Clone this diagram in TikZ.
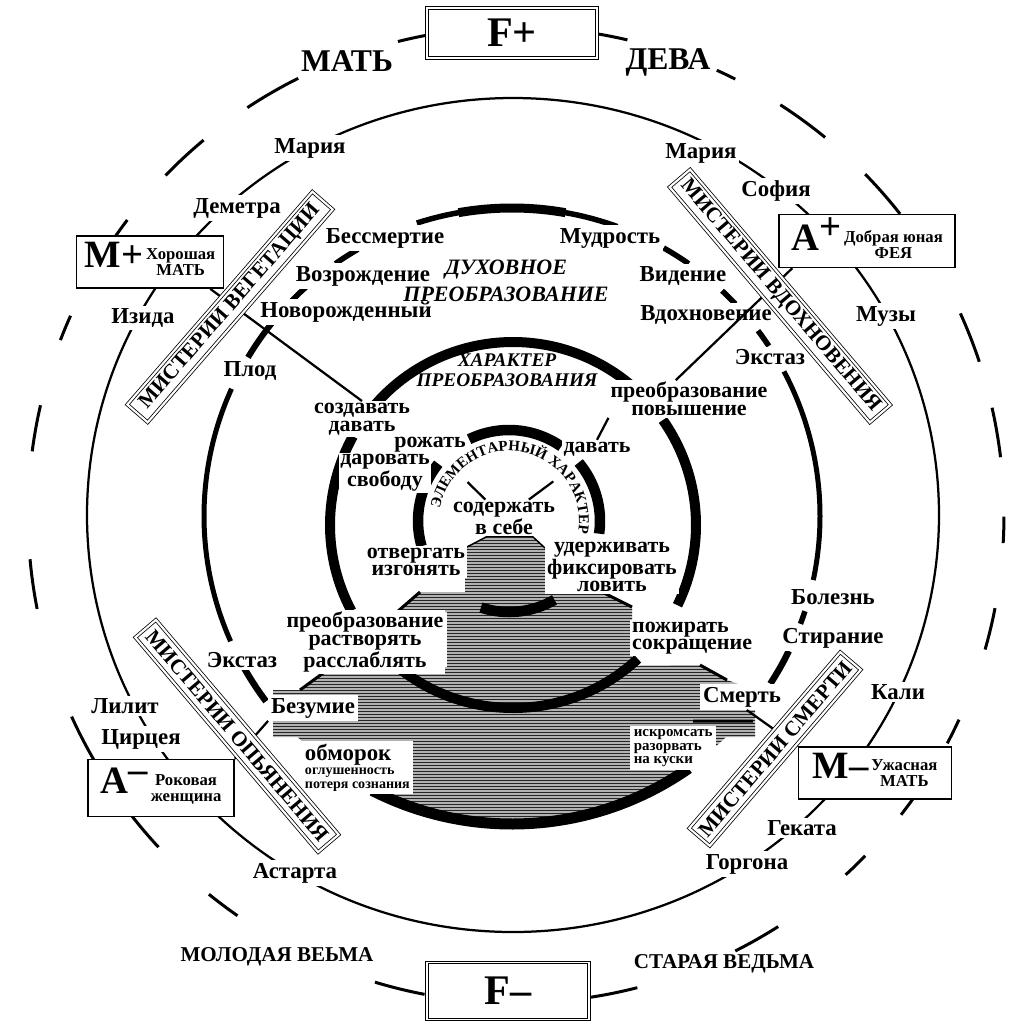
\documentclass[tikz,border=0pt]{standalone}
\usepackage{fontspec}
\setmainfont{Liberation Serif}
\usetikzlibrary{decorations.text}

% big letter with a two-line note beside it
\newcommand{\rolename}[3]{{\fontsize{22}{22}\selectfont\bfseries #1}\,%
  \begin{tabular}{@{}c@{}}\fontsize{9.5}{10}\selectfont\bfseries #2\\[-3pt]
    \fontsize{9.5}{10}\selectfont\bfseries #3\end{tabular}}

\tikzset{
  lbl/.style={fill=white, inner sep=1.5pt, font=\fontsize{13}{14}\selectfont\bfseries},
  act/.style={fill=white, inner sep=1pt, align=center, font=\fontsize{12.5}{10}\selectfont\bfseries},
  ttl/.style={inner sep=1pt, align=center, font=\fontsize{12.5}{15}\selectfont\bfseries\itshape},
  smallttl/.style={inner sep=1pt, align=center, font=\fontsize{11}{11.5}\selectfont\bfseries\itshape},
  caps/.style={inner sep=1pt, font=\fontsize{18}{18}\selectfont\bfseries},
  witch/.style={inner sep=1pt, font=\fontsize{12}{12}\selectfont\bfseries},
  rolebox/.style={draw, fill=white, line width=0.9pt, minimum width=#1, minimum height=10.4mm, inner sep=1.5pt},
  fbox/.style={draw, fill=white, line width=0.7pt, double distance=0.7pt, minimum width=34mm, minimum height=10mm, font=\fontsize{24}{24}\selectfont\bfseries},
  banner/.style={draw, fill=white, line width=0.45pt, double distance=1.2pt, minimum width=#1, minimum height=5.4mm, inner sep=0pt, font=\fontsize{12}{13}\selectfont\bfseries},
  link/.style={line width=0.45mm},
}

\begin{document}
\begin{tikzpicture}[x=0.2mm, y=-0.2mm]
  \useasboundingbox (0,0) rectangle (1017,1024);

  % centres of the rings
  \coordinate (c1) at (516,515);
  \coordinate (c2) at (513,515);
  \coordinate (c3) at (512,516);
  \coordinate (c4) at (513,525);
  \coordinate (c5) at (509,521);

  % the vessel
  \begin{scope}
    \clip (465,548) -- (488,536) -- (532,536) -- (545,548) -- (545,596) -- (465,596) -- cycle
          (397,612) -- (420,592) -- (602,592) -- (632,607) -- (632,670) -- (447,670) -- (447,612) -- cycle
          (273,690) -- (300,690) -- (330,668) -- (700,665) -- (727,680) -- (755,690) -- (755,737) -- (273,737) -- cycle
          (728,735) arc[start angle=45.4, end angle=134.6, radius=308] -- cycle;
    \fill[gray!60] (260,530) rectangle (770,830);
    \foreach \y in {531,534,...,831}
      \draw[black!85, line width=0.17mm] (260,\y) -- (770,\y);
  \end{scope}
  \draw[line width=0.6mm] (397,612) -- (420,592) (602,592) -- (632,607)
    (300,690) -- (330,668) (700,665) -- (727,680) (693,721) -- (753,721);
  \draw[line width=0.3mm] (465,548) -- (488,536) -- (532,536) -- (545,548);

  % outer ring, broken
  \foreach \a/\b in {-172.5/-167, -159/-155.9, -146/-142.8, -135.9/-129.8, -123.4/-116.5, -104/-100,
      -80.4/-76.8, -65.7/-63.3, -57.2/-50.7, -44.3/-38.1, -24.4/-18.3, -12.7/-6.8, 0.2/3.3, 11/16,
      24.8/27.9, 35.5/37.9, 44.3/47.5, 57.5/63.3, 75.6/81.2, 100.8/106.8, 124.8/129, 137.1/142.9,
      149.7/155.6, 168.9/174.8}
    \draw[line width=0.6mm] (c1) ++(\a:488) arc[start angle=\a, end angle=\b, radius=488];

  % second ring
  \draw[line width=0.45mm] (c2) ellipse[x radius=426, y radius=417];

  % spiritual transformation ring
  \foreach \a/\b/\w in {-108/-70/1.1, -100/-80/1.8, -125/-120/1.1, -136/-131.5/1.1, -149/-141/1.2,
      156/204.4/1, 143/150.6/1.3, -60.5/-55/1.1, -47/-43.5/1.1, -37/-33.5/1.1, -28/12/1,
      18/20.5/1.1, 26/33/1.3}
    \draw[line width=\w mm] (c3) ++(\a:308) arc[start angle=\a, end angle=\b, radius=308];
  \draw[line width=2.2mm] (c3) ++(55:308) arc[start angle=55, end angle=117, radius=308];

  % character of transformation ring
  \foreach \a/\b in {-144/-50, 152/209, -35/26, 47/130}
    \draw[line width=2mm] (c4) ++(\a:183) arc[start angle=\a, end angle=\b, radius=183];

  % elementary character ring
  \foreach \a/\b in {-116/-55, 164/219, -40/8, 60/108}
    \draw[line width=2.1mm] (c5) ++(\a:91) arc[start angle=\a, end angle=\b, radius=91];
  \path[decorate, decoration={text along path, text align=center,
      text={|\fontsize{8.5}{9}\selectfont\bfseries|ЭЛЕМЕНТАРНЫЙ ХАРАКТЕР}}]
    (c5) ++(-172:70) arc[start angle=-172, end angle=12, radius=70];

  % F boxes and outer words
  \node[fbox] (fplus) at (512,33) {F+};
  \node[fbox, minimum width=32.4mm, minimum height=11.4mm] (fminus) at (508,991) {F–};
  \node[caps] (mat) at (347,61) {МАТЬ};
  \node[caps] (deva) at (668,62) {ДЕВА};
  \node[witch] (young) at (277,957) {МОЛОДАЯ ВЕЬМА};
  \node[witch] (old) at (724,964) {СТАРАЯ ВЕДЬМА};

  % figures on the second ring
  \node[lbl] (mariaL) at (310,148) {Мария};
  \node[lbl] (mariaR) at (701,153) {Мария};
  \node[lbl] (sofia) at (776,191) {София};
  \node[lbl] (demetra) at (237,208) {Деметра};
  \node[lbl] (izida) at (143,318) {Изида};
  \node[lbl] (muzy) at (886,316) {Музы};
  \node[lbl] (lilit) at (125,706) {Лилит};
  \node[lbl] (circeya) at (141,739) {Цирцея};
  \node[lbl] (astarta) at (295,873) {Астарта};
  \node[lbl] (kali) at (898,692) {Кали};
  \node[lbl] (gekata) at (802,828) {Геката};
  \node[lbl] (gorgona) at (747,864) {Горгона};

  \node[rolebox=29.4mm] (mplus) at (150,262) {\rolename{M+}{Хорошая}{МАТЬ}};
  \node[rolebox=35.2mm] (aplus) at (867,241) {\rolename{A\raisebox{.3em}{+}}{Добрая юная}{ФЕЯ}};
  \node[rolebox=29.2mm, minimum height=11.4mm] (aminus) at (161,788) {\rolename{A\raisebox{.3em}{–}}{Роковая}{женщина}};
  \node[rolebox=30.6mm] (mminus) at (875,773) {\rolename{M–}{Ужасная}{МАТЬ}};

  % third ring
  \node[lbl] (bessm) at (385,238) {Бессмертие};
  \node[lbl] (mudr) at (610,238) {Мудрость};
  \node[lbl] (vozr) at (363,276) {Возрождение};
  \node[lbl] (viden) at (683,276) {Видение};
  \node[lbl] (novor) at (346,312) {Новорожденный};
  \node[lbl] (vdohn) at (706,315) {Вдохновение};
  \node[lbl] (plod) at (250,371) {Плод};
  \node[lbl] (ekstR) at (770,357) {Экстаз};
  \node[lbl] (ekstL) at (242,660) {Экстаз};
  \node[lbl] (bolezn) at (833,597) {Болезнь};
  \node[lbl] (stiran) at (833,638) {Стирание};
  \node[lbl] (bezum) at (313,708) {Безумие};
  \node[lbl] (smert) at (742,697) {Смерть};
  \node[ttl] (duh) at (506,281) {ДУХОВНОЕ\\ПРЕОБРАЗОВАНИЕ};
  \node[smallttl] (harakt) at (507,370) {ХАРАКТЕР\\ПРЕОБРАЗОВАНИЯ};

  % inner actions
  \node[act] (sozd) at (362,419) {создавать\\давать};
  \node[act] (povysh) at (689,399) {преобразование\\повышение};
  \node[act] (rozh) at (430,445) {рожать};
  \node[act] (davat) at (597,449) {давать};
  \node[act] (darov) at (385,473) {даровать\\свободу};
  \node[act] (soderzh) at (504,518) {содержать\\в себе};
  \node[act] (otverg) at (416,562) {отвергать\\изгонять};
  \node[act] (uderzh) at (612,567) {удерживать\\фиксировать\\ловить};
  \node[act] (rastv) at (365,642) {преобразование\\растворять\\расслаблять};
  \node[act, align=left, anchor=west] (pozhir) at (630,638) {пожирать\\сокращение};
  \node[act, align=left, anchor=north west, inner sep=1.5pt, font=\fontsize{8}{8}\selectfont\bfseries]
    (obmor) at (302,741) {{\fontsize{13}{13}\selectfont обморок}\\оглушенность\\потеря сознания};
  \node[act, align=left, anchor=north west, inner sep=2pt, font=\fontsize{8.5}{7.5}\selectfont\bfseries]
    (iskr) at (630,726) {искромсать\\разорвать\\на куски};

  % links
  \draw[link] (mplus.-24) -- (sozd.north);
  \draw[link] (aplus.200) -- (povysh.125);
  \draw[link] (davat.north) -- (povysh.south west);
  \draw[link, shorten >=7.8mm] (soderzh) -- (rozh);
  \draw[link, shorten >=7.8mm] (soderzh) -- (davat);
  \draw[link] (aminus.north east) -- (bezum.south west);
  \draw[link] (mminus.north west) -- (smert.-70);

  % the four mysteries
  \node[banner=56.4mm, rotate=49] (vegt) at (230,307) {МИСТЕРИИ ВЕГЕТАЦИИ};
  \node[banner=61.8mm, rotate=-49.6] (vdoh) at (780,296) {МИСТЕРИИ ВДОХНОВЕНИЯ};
  \node[banner=56.4mm, rotate=-49.6] (opian) at (237,736) {МИСТЕРИИ ОПЬЯНЕНИЯ};
  \node[banner=46.4mm, rotate=49.4] (smrt) at (775,749) {МИСТЕРИИ СМЕРТИ};
\end{tikzpicture}
\end{document}
